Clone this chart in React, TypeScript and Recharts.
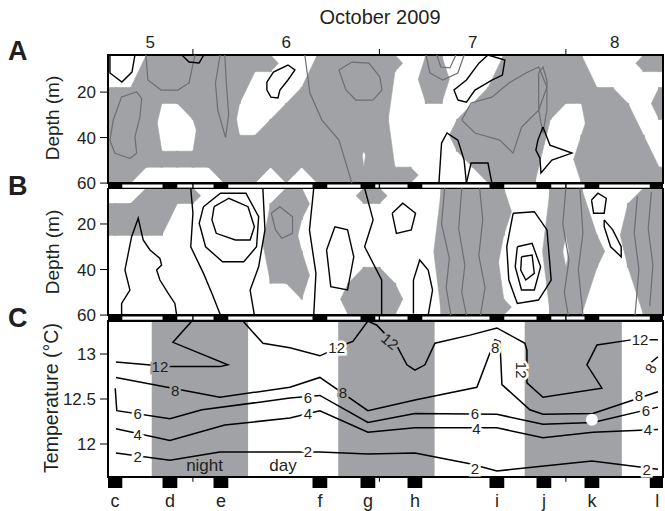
import React from 'react';
import { ComposedChart, XAxis, YAxis, Line, Area, ReferenceArea, ReferenceLine, ReferenceDot, Scatter } from 'recharts';

const FONT = '"Liberation Sans", Arial, Helvetica, sans-serif';
const INK = '#231f20';
const SHADE = '#a1a2a5';
const GRAYLINE = '#6d6e71';

// ---- time axis (hours since 5 Oct 2009 00:00) ----
const hourDomain = [13.07, 84.5];
const dayBoundaryHours = [24, 48, 72];
const dayLabelHours = [18.5, 36, 60, 78.3];
const dayLabelTexts = ['5', '6', '7', '8'];
const stationHours = [13.96, 21.04, 27.6, 40.34, 46.52, 52.57, 63.12, 69.17, 75.35, 83.75];
const stationLetters = ['c', 'd', 'e', 'f', 'g', 'h', 'i', 'j', 'k', 'l'];
const nightBands = [[18.7, 31.1], [42.7, 55.1], [66.7, 79.2]];
const BLOCK_HALF = 0.95;

// ---- depth panels ----
const depthTicks = [20, 40, 60];
const depthDomainA = [3.7, 62.6];
const depthDomainB = [4.2, 62.6];
const depthRowEdges = [3.7, 11, 18, 25, 32, 39, 46, 53, 60];
const columnStartHour = 13;
const columnStepHours = 2;

// 1 = shaded (gray) cell, rows top->bottom, columns every 2 h from 13 h
const panelAShade = [
  '001111111110011111101100011111100011',
  '001111111000011111001100011111100000',
  '111111111000111111001100111111111001',
  '111001110001111111000001111110011101',
  '111000110011111111000011111100011100',
  '111000111111111111000011111100111110',
  '111111111111111101000001111100111110',
  '110000011101011111110000111100111111',
];
const panelBShade = [
  '001111000001100011000111110011100011',
  '111100000011100000000111110011100111',
  '111100000011000000000111110011100111',
  '000000000011000000000111100010110111',
  '000000000011100000000111100010110111',
  '000000000011100011000111100011100011',
  '000000000000100111100111100011100011',
  '000000000000000111100111110011100011',
];

// contour lines (hour, depth): black ones lie in white areas, gray ones in shaded areas
const blackContoursA = [
  [[13.32, 3.7], [13.32, 11.6], [14.86, 15.6], [16.15, 11.2], [16.54, 3.7]],
  [[22.58, 3.7], [23.5, 6.8], [24.8, 7.2], [25.4, 3.7]],
  [[33.52, 15.6], [34.36, 11.2], [36.23, 8.1], [37.13, 10.3], [36.23, 14.7], [35.2, 19.1], [34.94, 22.6], [34.04, 22.2], [33.52, 19.1], [33.52, 15.6]],
  [[58.1, 23.5], [57.6, 19.1], [59.2, 14.7], [60.81, 7.3], [61.97, 3.7], [64.15, 5.9], [63.83, 12.5], [62.48, 14.7], [60.3, 19.1], [59.2, 24.4], [58.1, 23.5]],
  [[55.66, 60], [56.0, 42.4], [56.7, 38.0], [58.1, 41.1], [58.9, 49.9], [59.2, 60]],
  [[59.2, 60], [59.8, 51.2], [61.97, 51.2], [62.48, 60]],
  [[69.05, 35.4], [69.95, 43.3], [72.78, 46.8], [70.2, 49.9], [68.79, 55.6], [68.66, 49.0], [68.14, 45.5], [68.4, 41.1], [69.05, 35.4]],
];
const grayContoursA = [
  [[13.74, 32.3], [14.82, 22.1], [16.75, 19.9], [17.4, 22.8], [17.18, 30.9], [16.54, 39.6], [16.75, 46.9], [15.89, 49.1], [13.96, 46.9], [13.32, 41.1], [13.74, 32.3]],
  [[17.95, 3.7], [18.2, 14.7], [19.9, 19.1], [22.07, 19.1], [23.5, 16.0], [24.26, 3.7]],
  [[27.5, 3.7], [26.9, 16], [27.2, 28], [28.2, 40], [28.6, 30], [28.3, 16], [28.1, 3.7]],
  [[38.4, 3.7], [39.06, 20.4], [40.6, 32.3], [42.8, 41.1], [44.46, 60]],
  [[42.79, 10.3], [44.46, 6.8], [46.65, 7.3], [48.07, 13.4], [48.32, 19.1], [47.17, 23.5], [44.98, 23.5], [43.69, 19.1], [42.79, 10.3]],
  [[53.99, 3.7], [54.5, 11.6], [56.17, 14.7], [58.1, 11.6], [58.9, 3.7]],
  [[55.4, 3.7], [55.9, 9], [57.07, 9.4], [57.85, 3.7]],
  [[58.6, 32.3], [59.8, 24.8], [62.48, 22.2], [64.67, 16.0], [66.86, 11.6], [68.5, 9.0], [69.56, 17.8], [68.5, 27.9], [66.3, 35.4], [65.2, 46.8], [63.5, 41.1], [60.3, 38], [58.6, 32.3]],
  [[68.5, 11.6], [69.05, 9.0], [69.56, 14.7], [69.56, 27.9], [69.05, 38], [68.5, 27.9], [68.5, 11.6]],
];
const blackContoursB = [
  [[14.82, 59.9], [14.82, 54.9], [15.89, 49.0], [15.25, 40.2], [16.11, 25.6], [16.96, 17.5], [17.6, 27.0], [18.47, 31.4], [19.75, 35.1], [19.97, 38.0], [19.33, 40.2], [19.75, 44.6], [20.82, 50.5], [21.68, 54.9], [21.9, 59.9]],
  [[26.73, 12.4], [28.63, 8.7], [31.09, 12.4], [31.91, 21.2], [31.36, 27.0], [29.46, 27.0], [27.0, 24.1], [26.45, 18.2], [26.73, 12.4]],
  [[25.36, 12.4], [27.54, 6.5], [30.82, 6.5], [32.46, 16.8], [32.19, 30.0], [30.54, 36.6], [27.81, 36.6], [25.63, 30.0], [24.81, 19.7], [25.36, 12.4]],
  [[23.72, 4.3], [24, 15.3], [23.72, 30.0], [25.36, 41.7], [26.45, 50.5], [27.54, 60]],
  [[33.0, 4.3], [33.27, 22.6], [32.46, 38.8], [31.36, 49.0], [31.91, 60]],
  [[39.55, 4.3], [39.0, 22.6], [39.83, 41.7], [39.55, 60]],
  [[41.2, 31.4], [42.27, 21.2], [43.9, 22.6], [44.7, 34.4], [43.9, 49.0], [41.74, 47.5], [41.2, 31.4]],
  [[46.1, 4.3], [47.19, 18.2], [46.1, 30.0], [48.29, 44.6], [48.29, 60]],
  [[49.65, 15.3], [51.01, 10.9], [52.65, 15.3], [52.1, 22.6], [50.19, 24.1], [49.65, 15.3]],
  [[52.38, 59.3], [52.38, 44.6], [53.19, 35.8], [54.28, 40.2], [54.84, 49.0], [54.28, 60]],
  [[65.21, 15.3], [67.94, 14.6], [69.57, 22.6], [70.11, 44.6], [68.48, 53.4], [65.75, 54.9], [64.66, 44.6], [64.39, 30.0], [65.21, 15.3]],
  [[65.75, 30], [67.65, 28.5], [68.75, 38.8], [67.94, 49.0], [66.29, 49.0], [65.48, 38.8], [65.75, 30]],
  [[66.29, 34.4], [67.65, 33.6], [67.94, 41.7], [66.84, 44.6], [66.19, 40.2], [66.29, 34.4]],
  [[75.3, 9.5], [76.12, 6.5], [77.2, 8.7], [76.93, 15.3], [75.57, 15.3], [75.3, 9.5]],
  [[76.93, 18.2], [78.03, 22.6], [79.12, 30], [79.12, 34.4], [77.76, 30], [76.93, 21.2], [76.93, 18.2]],
];
const grayContoursB = [
  [[34.09, 15.3], [35.18, 12.4], [36.82, 16.8], [36.82, 24.1], [35.45, 26.3], [34.64, 22.6], [34.09, 15.3]],
  [[56.4, 4.3], [56.0, 20], [57.0, 35], [56.6, 48], [57.2, 60]],
  [[58.6, 4.3], [58.2, 22], [59.0, 38], [58.6, 50], [59.2, 60]],
  [[60.9, 4.3], [61.3, 18], [60.8, 34], [61.6, 48], [61.0, 60]],
  [[72.0, 4.3], [71.6, 20], [72.4, 36], [71.8, 50], [72.3, 60]],
  [[73.8, 4.3], [74.2, 24], [73.6, 40], [74.2, 60]],
  [[81.2, 8], [80.8, 24], [81.4, 40], [80.9, 60]],
  [[83.0, 6], [82.6, 22], [83.2, 38], [82.8, 56]],
];

// ---- temperature panel ----
const tempDomain = [11.511, 13.367];
const tempFrameBottom = 11.633;
const tempTicks = [12, 12.5, 13];

const iso2 = [[14.09, 11.9], [21.04, 11.82], [27.47, 11.91], [40.34, 11.91], [46.52, 11.89], [52.57, 11.9], [59.65, 11.78], [63.12, 11.7], [75.35, 11.81], [83.85, 11.72]];
const iso4 = [[14.09, 12.17], [21.04, 12.04], [28.1, 12.21], [36.48, 12.29], [40.34, 12.37], [46.52, 12.13], [52.57, 12.18], [63.12, 12.18], [69.05, 12.07], [75.48, 12.13], [83.85, 12.16]];
const iso6 = [[14.0, 12.62], [14.2, 12.37], [21.04, 12.28], [25.16, 12.38], [36.48, 12.51], [40.34, 12.54], [46.52, 12.24], [52.57, 12.34], [63.12, 12.33], [69.05, 12.22], [75.48, 12.24], [83.85, 12.41]];
const iso8 = [[14.09, 12.74], [27.47, 12.52], [36.48, 12.63], [40.34, 12.74], [46.52, 12.37], [52.57, 12.49], [60.55, 12.63], [62.87, 13.16], [63.51, 13.14], [63.77, 12.66], [67.37, 12.38], [69.05, 12.33], [75.48, 12.34], [83.85, 12.58]];
const iso12a = [[14.09, 12.91], [20.78, 12.86], [27.47, 12.86], [28.5, 12.88], [21.43, 13.13], [23.87, 13.367]];
const iso12b = [[30.43, 13.367], [33.01, 13.12], [36.48, 13.07], [40.34, 12.98], [43.95, 13.12], [44.59, 13.14], [46.52, 13.367], [47.68, 13.32], [50.38, 13.07], [51.54, 12.88], [52.57, 12.82], [53.86, 12.88], [55.15, 13.12], [59.65, 13.21], [63.12, 13.29], [66.73, 13.12], [66.99, 13.04], [66.99, 12.68], [69.05, 12.52], [76.64, 12.62], [74.71, 12.88], [76.0, 13.1], [80.63, 13.16], [83.85, 13.16]];
const iso8small = [[82.75, 12.89], [83.85, 12.97]];

const contourLabels = [
  { h: 19.75, t: 12.86, text: '12', rot: 0 },
  { h: 21.7, t: 12.59, text: '8', rot: 0 },
  { h: 16.9, t: 12.34, text: '6', rot: 0 },
  { h: 16.9, t: 12.11, text: '4', rot: 0 },
  { h: 16.9, t: 11.86, text: '2', rot: 0 },
  { h: 42.5, t: 13.07, text: '12', rot: 0 },
  { h: 49.35, t: 13.14, text: '12', rot: 40 },
  { h: 43.3, t: 12.57, text: '8', rot: 0 },
  { h: 38.8, t: 12.52, text: '6', rot: 0 },
  { h: 38.8, t: 12.34, text: '4', rot: 0 },
  { h: 38.8, t: 11.91, text: '2', rot: 0 },
  { h: 62.9, t: 13.07, text: '8', rot: 0 },
  { h: 66.3, t: 12.82, text: '12', rot: 90 },
  { h: 60.3, t: 12.34, text: '6', rot: 0 },
  { h: 60.5, t: 12.17, text: '4', rot: 0 },
  { h: 60.3, t: 11.73, text: '2', rot: 0 },
  { h: 81.55, t: 13.16, text: '12', rot: 0 },
  { h: 81.4, t: 12.54, text: '8', rot: 0 },
  { h: 82.3, t: 12.37, text: '6', rot: 0 },
  { h: 82.55, t: 12.16, text: '4', rot: 0 },
  { h: 82.4, t: 11.72, text: '2', rot: 0 },
  { h: 82.9, t: 12.84, text: '8', rot: -60 },
];
const bandLabels = [
  { h: 25.5, t: 11.77, text: 'night' },
  { h: 35.6, t: 11.77, text: 'day' },
];
const spot = { h: 75.35, t: 12.27 };

const pts = (arr: number[][]) => arr.map(([h, t]) => ({ h, t }));
const clampH = (v: number) => Math.min(Math.max(v, hourDomain[0]), hourDomain[1]);
const inNight = (h: number) => nightBands.some(([a, b]) => h >= a && h <= b);

const DayTick = (props: any) => {
  const { x, y, payload } = props;
  const v = payload.value;
  if (dayBoundaryHours.indexOf(v) >= 0) {
    return <line x1={x} x2={x} y1={y - 6} y2={y} stroke="#000" strokeWidth={1} />;
  }
  const i = dayLabelHours.indexOf(v);
  return (
    <text x={x} y={y - 7} textAnchor="middle" fontSize={17} fontFamily={FONT} fill={INK}>
      {dayLabelTexts[i]}
    </text>
  );
};

const StationTick = (props: any) => {
  const { x, y, payload } = props;
  const i = stationHours.indexOf(payload.value);
  return (
    <text x={x} y={y + 19} textAnchor="middle" fontSize={18} fontFamily={FONT} fill={INK}>
      {stationLetters[i]}
    </text>
  );
};

const ContourLabel = (props: any) => {
  const { cx, cy, payload } = props;
  const bg = inNight(payload.h) ? SHADE : '#fff';
  return (
    <text
      x={cx}
      y={cy}
      dy="0.36em"
      textAnchor="middle"
      fontSize={15}
      fontFamily={FONT}
      fill={INK}
      stroke={bg}
      strokeWidth={5}
      paintOrder="stroke"
      transform={payload.rot ? `rotate(${payload.rot} ${cx} ${cy})` : undefined}
    >
      {payload.text}
    </text>
  );
};

const BandLabel = (props: any) => {
  const { cx, cy, payload } = props;
  return (
    <text x={cx} y={cy} dy="0.36em" textAnchor="middle" fontSize={17} fontFamily={FONT} fill={INK}>
      {payload.text}
    </text>
  );
};

// gray runs (depth ranges) of one grid column
function columnRuns(rows: string[], c: number, yMin: number): number[][] {
  const runs: number[][] = [];
  let r = 0;
  while (r < rows.length) {
    if (rows[r][c] === '1') {
      const s = r;
      while (r + 1 < rows.length && rows[r + 1][c] === '1') r++;
      runs.push([Math.max(depthRowEdges[s], yMin), depthRowEdges[r + 1]]);
    }
    r++;
  }
  return runs;
}

// shaded regions drawn as range areas joining overlapping runs of neighbouring columns
function shadeAreas(rows: string[], yMin: number, prefix: string) {
  const n = rows[0].length;
  const center = (c: number) => columnStartHour + (c + 0.5) * columnStepHours;
  const runs = Array.from({ length: n }, (_, c) => columnRuns(rows, c, yMin));
  const overlaps = (a: number[], b: number[]) => a[0] < b[1] && b[0] < a[1];
  const E = 0.15;
  const out: React.ReactNode[] = [];
  let k = 0;
  const push = (data: [number, number[]][]) => {
    out.push(
      <Area key={`${prefix}${k++}`} data={data.map(([h, r]) => ({ h: clampH(h), r }))} dataKey="r"
        type="linear" fill={SHADE} fillOpacity={1} stroke={SHADE} strokeWidth={0.6}
        isAnimationActive={false} dot={false} activeDot={false} />
    );
  };
  for (let c = 0; c < n; c++) {
    for (const a of runs[c]) {
      const mid = (a[0] + a[1]) / 2;
      const h = center(c);
      if (c === 0) push([[hourDomain[0], a], [h + E, a]]);
      else if (!runs[c - 1].some((b) => overlaps(a, b))) push([[h - 1, [mid, mid]], [h, a], [h + E, a]]);
      if (c === n - 1) push([[h - E, a], [hourDomain[1], a]]);
      else {
        const nb = runs[c + 1].filter((b) => overlaps(a, b));
        if (nb.length === 0) push([[h - E, a], [h, a], [h + 1, [mid, mid]]]);
        else nb.forEach((b) => push([[h - E, a], [h, a], [center(c + 1), b], [center(c + 1) + E, b]]));
      }
    }
  }
  return out;
}

function stripAreas(y1: number, y2: number, inset: number, prefix: string) {
  const out: React.ReactNode[] = [
    <ReferenceArea key={`${prefix}-bk`} x1={hourDomain[0]} x2={hourDomain[1]} y1={y1} y2={y2}
      fill="#000" fillOpacity={1} stroke="none" ifOverflow="visible" />,
  ];
  for (let i = 0; i < stationHours.length - 1; i++) {
    const a = stationHours[i] + BLOCK_HALF;
    const b = stationHours[i + 1] - BLOCK_HALF;
    const cuts = dayBoundaryHours.filter((d) => d > a && d < b);
    let s = a;
    const segs: number[][] = [];
    cuts.forEach((cut) => { segs.push([s, cut - 0.09]); s = cut + 0.09; });
    segs.push([s, b]);
    segs.forEach(([p, q], j) => {
      out.push(
        <ReferenceArea key={`${prefix}-w-${i}-${j}`} x1={p} x2={q} y1={y1 + inset} y2={y2 - inset}
          fill="#fff" fillOpacity={1} stroke="none" ifOverflow="visible" />
      );
    });
  }
  return out;
}

function contourLines(list: number[][][], color: string, width: number, prefix: string) {
  return list.map((c, i) => (
    <Line key={`${prefix}${i}`} data={pts(c)} dataKey="t" stroke={color} strokeWidth={width}
      dot={false} isAnimationActive={false} type="linear" />
  ));
}

const yTick = { fontSize: 17, fill: INK, fontFamily: FONT };

function PanelA() {
  return (
    <ComposedChart width={665} height={194} margin={{ top: 30, right: 2, bottom: 5, left: 68 }}>
      <XAxis type="number" dataKey="h" domain={hourDomain} allowDataOverflow orientation="top" height={25}
        ticks={[18.5, 24, 36, 48, 60, 72, 78.3]} interval={0} tick={<DayTick />} tickLine={false}
        axisLine={false} tickSize={0} tickMargin={0} />
      <YAxis type="number" dataKey="t" domain={depthDomainA} reversed allowDataOverflow ticks={depthTicks}
        interval={0} width={40} axisLine={false} tickSize={8} tickMargin={4}
        tickLine={{ stroke: '#000', strokeWidth: 1 }} tick={yTick} />
      {shadeAreas(panelAShade, depthDomainA[0], 'a')}
      {contourLines(grayContoursA, GRAYLINE, 1.2, 'ga')}
      {contourLines(blackContoursA, '#000', 1.4, 'ka')}
      <ReferenceArea x1={hourDomain[0]} x2={hourDomain[1]} y1={depthDomainA[0]} y2={60}
        fill="none" stroke="#000" strokeWidth={2} ifOverflow="visible" />
      {stripAreas(60, 62.6, 0.6, 'sa')}
    </ComposedChart>
  );
}

function PanelB() {
  return (
    <ComposedChart width={665} height={137} margin={{ top: 0, right: 2, bottom: 4, left: 68 }}>
      <XAxis type="number" dataKey="h" domain={hourDomain} allowDataOverflow hide />
      <YAxis type="number" dataKey="t" domain={depthDomainB} reversed allowDataOverflow ticks={depthTicks}
        interval={0} width={40} axisLine={false} tickSize={8} tickMargin={4}
        tickLine={{ stroke: '#000', strokeWidth: 1 }} tick={yTick} />
      {shadeAreas(panelBShade, depthDomainB[0], 'b')}
      {contourLines(grayContoursB, GRAYLINE, 1.2, 'gb')}
      {contourLines(blackContoursB, '#000', 1.4, 'kb')}
      <ReferenceArea x1={hourDomain[0]} x2={hourDomain[1]} y1={depthDomainB[0]} y2={60}
        fill="none" stroke="#000" strokeWidth={2} ifOverflow="visible" />
      {stripAreas(60, 62.6, 0.6, 'sb')}
    </ComposedChart>
  );
}

function PanelC() {
  const lineProps = { dataKey: 't', stroke: '#000', strokeWidth: 1.5, dot: false, isAnimationActive: false, type: 'linear' as const };
  return (
    <ComposedChart width={665} height={211} margin={{ top: 21, right: 2, bottom: 0, left: 68 }}>
      <XAxis type="number" dataKey="h" domain={hourDomain} allowDataOverflow height={23}
        ticks={stationHours} interval={0} tick={<StationTick />} tickLine={false} axisLine={false}
        tickSize={0} tickMargin={0} />
      <YAxis type="number" dataKey="t" domain={tempDomain} allowDataOverflow ticks={tempTicks} interval={0}
        width={40} axisLine={false} tickSize={8} tickMargin={4} tickLine={{ stroke: '#000', strokeWidth: 1 }}
        tick={yTick} tickFormatter={(v: number) => (v === 12.5 ? '12.5' : String(v))} />
      {nightBands.map(([a, b], i) => (
        <ReferenceArea key={`n${i}`} x1={a} x2={b} y1={tempFrameBottom} y2={tempDomain[1]}
          fill={SHADE} fillOpacity={1} stroke="none" ifOverflow="visible" />
      ))}
      {stationHours.map((s, i) => (
        <ReferenceArea key={`blk${i}`} x1={clampH(s - BLOCK_HALF)} x2={clampH(s + BLOCK_HALF)}
          y1={tempDomain[0]} y2={tempFrameBottom} fill="#000" fillOpacity={1} stroke="none" ifOverflow="visible" />
      ))}
      {dayBoundaryHours.map((d) => (
        <ReferenceLine key={`dt${d}`} segment={[{ x: d, y: tempFrameBottom }, { x: d, y: 11.58 }]}
          stroke="#000" strokeWidth={1} ifOverflow="visible" />
      ))}
      <Line data={pts(iso2)} {...lineProps} />
      <Line data={pts(iso4)} {...lineProps} />
      <Line data={pts(iso6)} {...lineProps} />
      <Line data={pts(iso8)} {...lineProps} />
      <Line data={pts(iso12a)} {...lineProps} />
      <Line data={pts(iso12b)} {...lineProps} />
      <Line data={pts(iso8small)} {...lineProps} />
      <ReferenceDot x={spot.h} y={spot.t} r={6} fill="#fff" stroke="none" ifOverflow="visible" />
      <Scatter data={contourLabels} dataKey="t" shape={<ContourLabel />} isAnimationActive={false} />
      <Scatter data={bandLabels} dataKey="t" shape={<BandLabel />} isAnimationActive={false} />
      <ReferenceArea x1={hourDomain[0]} x2={hourDomain[1]} y1={tempFrameBottom} y2={tempDomain[1]}
        fill="none" stroke="#000" strokeWidth={2} ifOverflow="visible" />
    </ComposedChart>
  );
}

export default function App() {
  return (
    <div style={{ position: 'absolute', left: 0, top: 0, width: 665, height: 511, background: '#fff', overflow: 'hidden' }}>
      <div style={{ position: 'absolute', left: 0, top: 0 }}><PanelA /></div>
      <div style={{ position: 'absolute', left: 0, top: 188 }}><PanelB /></div>
      <div style={{ position: 'absolute', left: 0, top: 300 }}><PanelC /></div>
      <svg width={665} height={511} style={{ position: 'absolute', left: 0, top: 0, pointerEvents: 'none' }}>
        <text x={380} y={24} textAnchor="middle" fontSize={20} fontFamily={FONT} fill={INK}>October 2009</text>
        <text x={8} y={60} fontSize={27} fontWeight="bold" fontFamily={FONT} fill={INK}>A</text>
        <text x={8} y={195} fontSize={27} fontWeight="bold" fontFamily={FONT} fill={INK}>B</text>
        <text x={8} y={327} fontSize={27} fontWeight="bold" fontFamily={FONT} fill={INK}>C</text>
        <text x={0} y={0} transform="translate(59 118) rotate(-90)" textAnchor="middle" fontSize={19} fontFamily={FONT} fill={INK}>Depth (m)</text>
        <text x={0} y={0} transform="translate(59 252) rotate(-90)" textAnchor="middle" fontSize={19} fontFamily={FONT} fill={INK}>Depth (m)</text>
        <text x={0} y={0} transform="translate(58 398) rotate(-90)" textAnchor="middle" fontSize={19.5} fontFamily={FONT} fill={INK}>Temperature (°C)</text>
      </svg>
    </div>
  );
}
